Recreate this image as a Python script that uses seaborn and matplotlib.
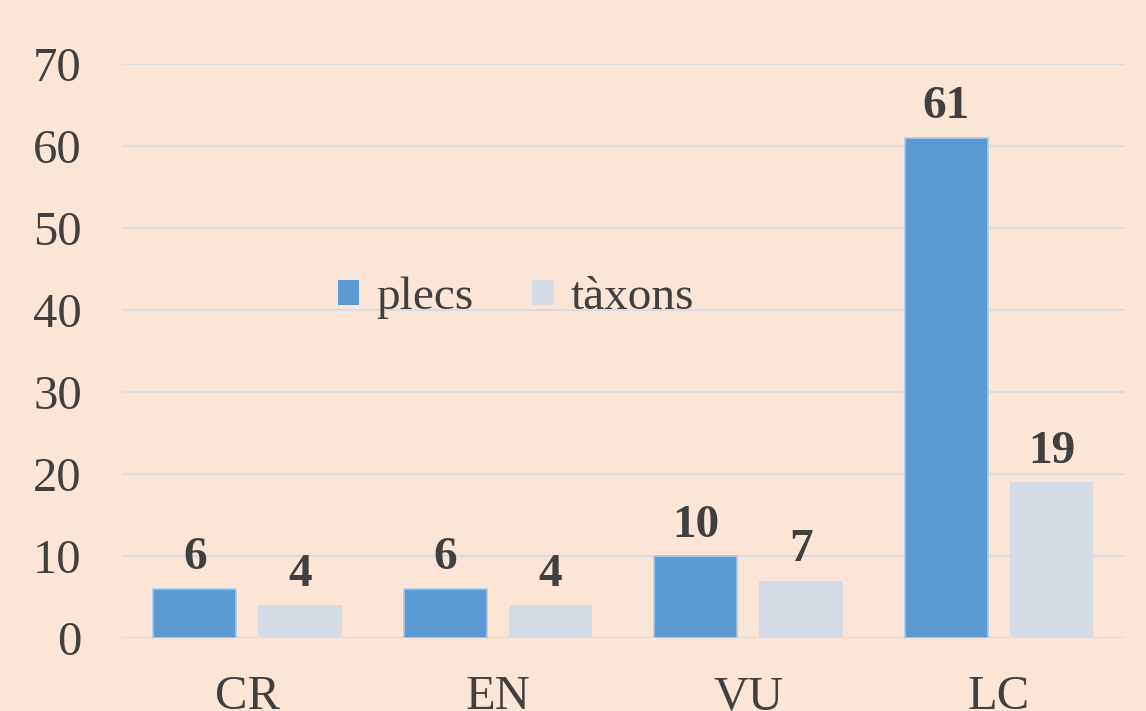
import matplotlib
matplotlib.use("Agg")
import matplotlib.pyplot as plt
import seaborn as sns
import pandas as pd

categories = ["CR", "EN", "VU", "LC"]
plecs = [6, 6, 10, 61]
taxons = [4, 4, 7, 19]
series_names = ["plecs", "tàxons"]
yticks = [0, 10, 20, 30, 40, 50, 60, 70]

BG = "#FBE5D7"
TEXT = "#404040"
colors = ["#5B9BD5", "#D6DCE5"]

sns.set_theme(style="white")
plt.rcParams["font.family"] = ["Liberation Serif", "DejaVu Serif"]

dataFrame = pd.DataFrame({
    "categoria": categories * 2,
    "serie": [series_names[0]] * len(categories) + [series_names[1]] * len(categories),
    "valor": plecs + taxons,
})

fig = plt.figure(figsize=(11.46, 7.11), dpi=100, facecolor=BG)
ax = fig.add_axes([0.1065, 0.1027, 0.8745, 0.8073])
ax.set_facecolor(BG)

sns.barplot(data=dataFrame, x="categoria", y="valor", hue="serie",
            order=categories, hue_order=series_names, palette=colors,
            width=0.84, gap=0.21, ax=ax, saturation=1, edgecolor=None,
            linewidth=0)

# light outline on the blue bars, like the original
for bar in ax.containers[0]:
    bar.set_edgecolor("#A9C9E8")
    bar.set_linewidth(1.2)

for container in ax.containers:
    for bar in container:
        h = bar.get_height()
        ax.annotate(f"{h:.0f}", (bar.get_x() + bar.get_width() / 2, h),
                    xytext=(0, 14), textcoords="offset points",
                    ha="center", va="baseline", fontsize=34,
                    fontweight="bold", color=TEXT)

ax.set_ylim(0, 70)
ax.set_xlim(-0.5, 3.5)
ax.set_yticks(yticks)
ax.grid(axis="y", color="#D9DCE0", linewidth=1.5)
ax.set_axisbelow(True)
for s in ax.spines.values():
    s.set_visible(False)
ax.set_xlabel("")
ax.set_ylabel("")
ax.tick_params(axis="both", length=0, labelsize=35, labelcolor=TEXT)
ax.tick_params(axis="y", pad=29)
ax.tick_params(axis="x", pad=27)

handles, labels = ax.get_legend_handles_labels()
leg = ax.legend(handles, labels, loc="center", bbox_to_anchor=(0.393, 0.592),
                ncol=2, frameon=False, fontsize=34, handlelength=0.45,
                handleheight=0.45, handletextpad=0.35, columnspacing=1.25,
                labelcolor=TEXT)

fig.savefig("out.png", dpi=100, facecolor=BG)
